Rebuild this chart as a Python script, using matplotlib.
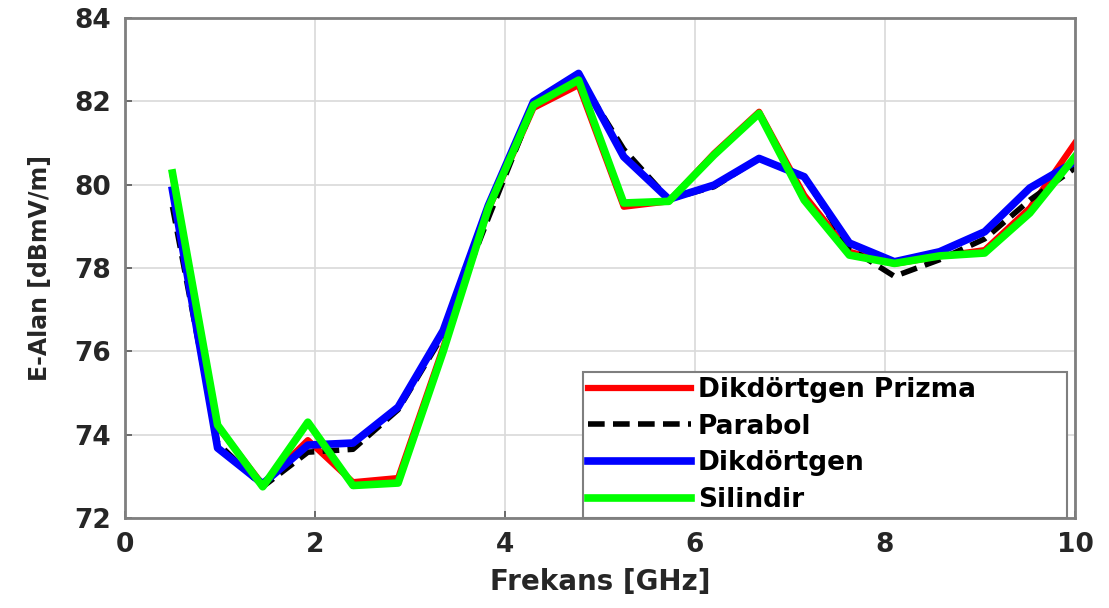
import matplotlib.pyplot as plt

plt.rcParams['font.family'] = ['DejaVu Sans']
plt.rcParams['font.weight'] = 'bold'

frekans = [0.5, 0.975, 1.45, 1.925, 2.4, 2.875, 3.35, 3.825, 4.3, 4.775, 5.25,
           5.725, 6.2, 6.675, 7.15, 7.625, 8.1, 8.575, 9.05, 9.525, 10.0]
prizma = [80.25, 74.2, 72.8, 73.87, 72.86, 72.96, 76.1, 79.4, 81.84, 82.39, 79.47,
          79.6, 80.75, 81.75, 79.75, 78.39, 78.1, 78.28, 78.43, 79.44, 81.0]
parabol = [79.47, 73.8, 72.75, 73.58, 73.65, 74.6, 76.4, 79.2, 81.9, 82.6, 80.85,
           79.65, 79.95, 80.63, 80.2, 78.48, 77.8, 78.2, 78.7, 79.63, 80.4]
dikdortgen = [79.87, 73.68, 72.82, 73.75, 73.8, 74.66, 76.5, 79.5, 81.99, 82.67, 80.67,
              79.65, 79.99, 80.63, 80.19, 78.6, 78.15, 78.39, 78.87, 79.92, 80.55]
silindir = [80.28, 74.23, 72.75, 74.3, 72.78, 72.84, 76.0, 79.44, 81.91, 82.51, 79.56,
            79.6, 80.71, 81.71, 79.63, 78.31, 78.11, 78.29, 78.36, 79.32, 80.67]

fig = plt.figure(figsize=(11.09, 6.08), dpi=100)
ax = fig.add_axes([0.1127, 0.148, 0.8566, 0.8224])

ax.plot(frekans, prizma, color='#ff0000', linewidth=4.5, label='Dikdörtgen Prizma')
ax.plot(frekans, parabol, color='black', linewidth=4, linestyle=(0, (3, 1.5)), label='Parabol')
ax.plot(frekans, dikdortgen, color='#0000ff', linewidth=5.5, label='Dikdörtgen')
ax.plot(frekans, silindir, color='#00ff00', linewidth=5.5, label='Silindir')

ax.set_xlim(0, 10)
ax.set_ylim(72, 84)
ax.set_xticks([0, 2, 4, 6, 8, 10])
ax.set_yticks([72, 74, 76, 78, 80, 82, 84])
ax.grid(True, color='#d9d9d9', linewidth=1.2)
ax.set_axisbelow(True)
ax.tick_params(direction='in', length=5, width=1.2, color='#555555',
               labelsize=19, labelcolor='#262626', top=False, right=False, pad=10)
for s in ax.spines.values():
    s.set_color('#7f7f7f')
    s.set_linewidth(2)

ax.set_xlabel('Frekans [GHz]', fontsize=20, fontweight='bold', color='#262626', labelpad=7)
ax.set_ylabel('E-Alan [dBmV/m]', fontsize=17, fontweight='bold', color='#262626', labelpad=16)

leg = ax.legend(loc='lower left', bbox_to_anchor=(0.482, 0.0, 0.5096, 0.298), mode='expand',
                borderaxespad=0, fontsize=19, handlelength=3.9, handletextpad=0.25,
                labelspacing=0.4, fancybox=False, framealpha=1, edgecolor='#7f7f7f',
                borderpad=0.2)
leg.get_frame().set_linewidth(1.5)

plt.savefig('out.png', dpi=100)
